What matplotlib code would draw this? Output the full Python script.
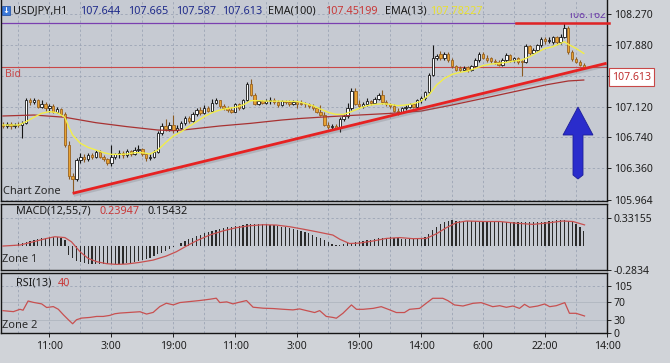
import numpy as np
import matplotlib
matplotlib.use("Agg")
import matplotlib.pyplot as plt
import matplotlib.patheffects as pe
from matplotlib.patches import Polygon, Rectangle
from matplotlib.transforms import Bbox, TransformedBbox, IdentityTransform

plt.rcParams['font.family'] = ['Noto Sans', 'DejaVu Sans']

# ---- data (H1 bars) ----
opens = [106.90, 106.88, 106.91, 106.88, 106.90, 106.89, 106.92, 107.20, 107.18, 107.21,
         107.12, 107.16, 107.10, 107.13, 107.06, 107.09, 107.03, 106.65, 106.26, 106.22,
         106.46, 106.50, 106.47, 106.52, 106.50, 106.56, 106.50, 106.47, 106.42, 106.50,
         106.53, 106.55, 106.52, 106.57, 106.54, 106.58, 106.60, 106.53, 106.48, 106.50,
         106.56, 106.79, 106.88, 106.84, 106.90, 106.83, 106.86, 106.92, 106.98, 106.95,
         107.03, 107.08, 107.04, 107.11, 107.07, 107.17, 107.20, 107.13, 107.10, 107.08,
         107.06, 107.15, 107.10, 107.20, 107.40, 107.27, 107.16, 107.19, 107.17, 107.19,
         107.21, 107.18, 107.14, 107.19, 107.18, 107.15, 107.18, 107.17, 107.16, 107.15,
         107.13, 107.10, 107.06, 107.02, 106.90, 106.87, 106.88, 106.86, 106.97, 107.00,
         107.10, 107.32, 107.16, 107.13, 107.16, 107.19, 107.17, 107.22, 107.26, 107.18,
         107.15, 107.13, 107.07, 107.05, 107.10, 107.12, 107.15, 107.12, 107.20, 107.23,
         107.30, 107.52, 107.73, 107.77, 107.72, 107.78, 107.70, 107.62, 107.60, 107.58,
         107.61, 107.57, 107.62, 107.70, 107.78, 107.73, 107.72, 107.69, 107.68, 107.64,
         107.70, 107.76, 107.70, 107.72, 107.69, 107.67, 107.87, 107.79, 107.83, 107.88,
         107.96, 107.93, 107.92, 107.98, 107.92, 107.99, 108.10, 107.80, 107.71, 107.68,
         107.644]
highs = [106.93, 106.93, 106.93, 106.92, 106.93, 106.94, 107.23, 107.23, 107.23, 107.22,
         107.20, 107.18, 107.16, 107.15, 107.12, 107.10, 107.05, 106.70, 106.30, 106.48,
         106.55, 106.53, 106.55, 106.55, 106.59, 106.58, 106.52, 106.49, 106.65, 106.55,
         106.58, 106.57, 106.60, 106.59, 106.62, 106.65, 106.61, 106.55, 106.53, 106.58,
         106.82, 106.92, 106.97, 106.93, 107.02, 106.89, 106.94, 107.00, 107.01, 107.06,
         107.10, 107.12, 107.14, 107.13, 107.22, 107.23, 107.21, 107.16, 107.13, 107.12,
         107.17, 107.17, 107.22, 107.43, 107.46, 107.29, 107.21, 107.21, 107.22, 107.24,
         107.23, 107.20, 107.21, 107.21, 107.20, 107.20, 107.20, 107.21, 107.18, 107.17,
         107.15, 107.12, 107.14, 107.06, 106.93, 106.91, 106.91, 106.99, 107.03, 107.17,
         107.35, 107.35, 107.20, 107.18, 107.23, 107.21, 107.24, 107.29, 107.33, 107.21,
         107.17, 107.15, 107.10, 107.12, 107.14, 107.17, 107.17, 107.22, 107.25, 107.32,
         107.54, 107.89, 107.78, 107.81, 107.80, 107.80, 107.72, 107.64, 107.62, 107.62,
         107.63, 107.64, 107.72, 107.80, 107.80, 107.76, 107.74, 107.71, 107.70, 107.72,
         107.79, 107.78, 107.74, 107.74, 107.71, 107.90, 107.89, 107.85, 107.90, 107.98,
         107.98, 107.98, 108.00, 108.00, 108.02, 108.16, 108.12, 107.82, 107.74, 107.70,
         107.665]
lows = [106.86, 106.86, 106.85, 106.86, 106.87, 106.73, 106.91, 107.14, 107.15, 107.10,
        107.10, 107.07, 107.06, 107.04, 107.04, 107.00, 106.62, 106.22, 106.05, 106.20,
        106.42, 106.43, 106.45, 106.47, 106.48, 106.48, 106.45, 106.40, 106.39, 106.47,
        106.49, 106.49, 106.50, 106.51, 106.52, 106.56, 106.51, 106.45, 106.46, 106.48,
        106.55, 106.77, 106.82, 106.82, 106.80, 106.81, 106.84, 106.90, 106.92, 106.93,
        107.01, 107.02, 107.03, 107.05, 107.06, 107.15, 107.11, 107.08, 107.06, 107.04,
        107.05, 107.08, 107.09, 107.19, 107.25, 107.14, 107.14, 107.15, 107.15, 107.16,
        107.16, 107.12, 107.13, 107.15, 107.13, 107.14, 107.10, 107.14, 107.12, 107.11,
        107.08, 107.04, 107.00, 106.88, 106.84, 106.84, 106.84, 106.81, 106.94, 106.98,
        107.08, 107.14, 107.11, 107.11, 107.13, 107.14, 107.15, 107.20, 107.16, 107.13,
        107.10, 107.05, 107.02, 107.04, 107.08, 107.10, 107.10, 107.11, 107.17, 107.21,
        107.28, 107.50, 107.70, 107.70, 107.70, 107.68, 107.60, 107.56, 107.55, 107.56,
        107.55, 107.56, 107.61, 107.68, 107.71, 107.68, 107.66, 107.65, 107.62, 107.63,
        107.68, 107.68, 107.68, 107.65, 107.50, 107.66, 107.76, 107.77, 107.81, 107.86,
        107.90, 107.91, 107.90, 107.90, 107.90, 107.97, 107.78, 107.69, 107.66, 107.62,
        107.587]
closes = [106.88, 106.91, 106.88, 106.90, 106.89, 106.92, 107.20, 107.18, 107.21, 107.12,
          107.16, 107.10, 107.13, 107.06, 107.09, 107.03, 106.65, 106.26, 106.22, 106.46,
          106.50, 106.47, 106.52, 106.50, 106.56, 106.50, 106.47, 106.42, 106.50, 106.53,
          106.55, 106.52, 106.57, 106.54, 106.58, 106.60, 106.53, 106.48, 106.50, 106.56,
          106.79, 106.88, 106.84, 106.90, 106.83, 106.86, 106.92, 106.98, 106.95, 107.03,
          107.08, 107.04, 107.11, 107.07, 107.17, 107.20, 107.13, 107.10, 107.08, 107.06,
          107.15, 107.10, 107.20, 107.40, 107.27, 107.16, 107.19, 107.17, 107.19, 107.21,
          107.18, 107.14, 107.19, 107.18, 107.15, 107.18, 107.15, 107.16, 107.15, 107.13,
          107.10, 107.06, 107.02, 106.90, 106.87, 106.88, 106.86, 106.97, 107.00, 107.10,
          107.32, 107.16, 107.13, 107.16, 107.19, 107.17, 107.22, 107.26, 107.18, 107.15,
          107.13, 107.07, 107.05, 107.10, 107.12, 107.15, 107.12, 107.20, 107.23, 107.30,
          107.52, 107.73, 107.75, 107.72, 107.78, 107.70, 107.62, 107.58, 107.58, 107.60,
          107.57, 107.62, 107.70, 107.78, 107.73, 107.70, 107.69, 107.67, 107.64, 107.70,
          107.76, 107.70, 107.72, 107.67, 107.67, 107.87, 107.79, 107.83, 107.88, 107.96,
          107.93, 107.95, 107.98, 107.92, 107.99, 108.10, 107.80, 107.71, 107.68, 107.64,
          107.613]

ema13_x = [0, 4, 6, 8, 10, 12, 14, 16, 17, 18, 20, 22, 24, 26, 28, 30, 32, 34, 36, 38,
           40, 42, 44, 46, 48, 50, 52, 54, 56, 58, 60, 62, 64, 66, 68, 72, 76, 77, 80, 82,
           84, 86, 88, 90, 92, 94, 96, 98, 100, 102, 104, 106, 108, 110, 112, 114, 116, 118,
           120, 122, 124, 126, 128, 130, 132, 134, 136, 138, 140, 142, 144, 145, 146, 148, 150]
ema13_y = [106.894, 106.894, 106.936, 106.99, 107.039, 107.06, 107.047, 106.99, 106.87, 106.77,
           106.667, 106.617, 106.584, 106.551, 106.53, 106.53, 106.534, 106.551, 106.551, 106.534,
           106.584, 106.675, 106.758, 106.81, 106.874, 106.936, 106.998, 107.047, 107.08, 107.10,
           107.113, 107.142, 107.196, 107.196, 107.19, 107.19, 107.185, 107.175, 107.134, 107.092,
           107.051, 107.026, 107.026, 107.06, 107.10, 107.134, 107.15, 107.158, 107.15, 107.134,
           107.142, 107.158, 107.19, 107.266, 107.39, 107.472, 107.522, 107.547, 107.563, 107.596,
           107.63, 107.65, 107.658, 107.671, 107.687, 107.70, 107.74, 107.795, 107.844, 107.865,
           107.906, 107.927, 107.894, 107.844, 107.782]
ema100_x = [0, 8, 16, 24, 32, 40, 44, 48, 56, 64, 72, 77, 84, 92, 100, 108, 116, 124, 132, 140, 146, 150]
ema100_y = [107.006, 107.018, 106.99, 106.923, 106.874, 106.832, 106.824, 106.84, 106.882, 106.915,
            106.956, 106.976, 106.997, 107.018, 107.038, 107.067, 107.142, 107.224, 107.307, 107.39,
            107.44, 107.452]

trend_x = [18, 155.9]
trend_y = [106.047, 107.66]
bid = 107.613
day_high = 108.162

macd_hist = [0.005, 0.005, 0.008, 0.01, 0.03, 0.04, 0.05, 0.06, 0.07, 0.08,
             0.09, 0.10, 0.106, 0.11, 0.11, 0.10, 0.07, -0.106, -0.146, -0.177,
             -0.193, -0.205, -0.21, -0.213, -0.215, -0.217, -0.217, -0.217, -0.215, -0.213,
             -0.212, -0.21, -0.205, -0.2, -0.19, -0.18, -0.166, -0.15, -0.14, -0.12,
             -0.1, -0.08, -0.055, -0.03, -0.016, 0.0, 0.03, 0.06, 0.083, 0.10,
             0.118, 0.134, 0.15, 0.166, 0.177, 0.19, 0.20, 0.21, 0.22, 0.228,
             0.236, 0.24, 0.248, 0.256, 0.26, 0.264, 0.264, 0.26, 0.256, 0.252,
             0.244, 0.236, 0.228, 0.22, 0.213, 0.205, 0.19, 0.177, 0.166, 0.15,
             0.13, 0.11, 0.09, 0.07, 0.05, 0.02, 0.015, 0.015, 0.02, 0.03,
             0.04, 0.047, 0.055, 0.06, 0.067, 0.075, 0.083, 0.09, 0.10, 0.10,
             0.106, 0.10, 0.09, 0.087, 0.083, 0.08, 0.08, 0.083, 0.087, 0.106,
             0.146, 0.185, 0.225, 0.256, 0.28, 0.296, 0.304, 0.30, 0.30, 0.30,
             0.30, 0.30, 0.30, 0.30, 0.30, 0.29, 0.29, 0.29, 0.29, 0.29,
             0.29, 0.28, 0.28, 0.28, 0.28, 0.28, 0.28, 0.28, 0.285, 0.29,
             0.29, 0.30, 0.30, 0.305, 0.31, 0.31, 0.30, 0.29, 0.256, 0.225,
             0.177]
sig_x = [0, 4.4, 7.8, 11.3, 13.4, 16, 17.7, 19.9, 22, 24.2, 26.8, 29.3, 31.9, 35.4, 38.8, 42.2,
         44.8, 47.4, 50, 53.4, 56.9, 60.3, 63.7, 67.2, 70.6, 74.1, 77.5, 80.9, 85.2, 87, 89.5,
         92.1, 95.6, 99, 102.5, 105.9, 109.3, 112, 114.5, 117.1, 119.7, 124, 128.3, 132.5,
         136.9, 141.2, 144.6, 147.2, 150.2]
sig_y = [0, 0.012, 0.05, 0.09, 0.11, 0.10, 0.05, -0.067, -0.146, -0.185, -0.209, -0.217, -0.213,
         -0.193, -0.166, -0.118, -0.067, 0, 0.063, 0.13, 0.18, 0.217, 0.24, 0.252, 0.248, 0.228,
         0.2, 0.17, 0.13, 0.08, 0.03, 0.035, 0.06, 0.09, 0.1, 0.087, 0.09, 0.146, 0.217, 0.276,
         0.296, 0.29, 0.29, 0.27, 0.256, 0.276, 0.296, 0.29, 0.25]

rsi_x = [0, 2.7, 4.4, 5.2, 6.5, 7.8, 10, 11.3, 13, 14.3, 15.6, 16.9, 18, 19, 20.3, 22.5, 24.2,
         25.9, 27.6, 28.9, 30.2, 32.8, 35.4, 37.1, 38.8, 40.5, 42.2, 44, 45.7, 48.3, 50.8, 53.4,
         55.1, 56, 57.8, 59.4, 60.7, 62.9, 64.6, 67.2, 69.8, 72.3, 74.9, 76.6, 78.4, 80.5, 81.8,
         83.5, 85.2, 86.1, 87.8, 90, 91.3, 93, 95.6, 97.7, 99.9, 101.6, 103.7, 105, 107.6, 109.3,
         111, 113.6, 114.9, 116.6, 118.8, 121.4, 123.5, 124.8, 126.5, 128.3, 130, 131.7, 133.4,
         134.7, 136, 138.1, 139.9, 141.2, 142.9, 145.1, 146.3, 148, 150.2]
rsi_y = [49.9, 47.7, 52.9, 50.9, 71.5, 68.5, 65, 56.9, 59, 53, 40.8, 29.6, 20.6, 29.6, 33.3, 34.8,
         37, 37, 39.3, 43, 44.5, 46, 47.5, 42.3, 46, 59, 66.5, 62.8, 68, 70.3, 72.5, 75.4, 77.7,
         68, 69.5, 65, 68, 72.5, 57.6, 55.4, 54.6, 53, 51.6, 53.8, 50, 45.7, 50, 37, 34.8, 33,
         44, 62.7, 52.9, 52.9, 55, 58.8, 51.6, 45.7, 45.7, 52.9, 55, 66.3, 77.5, 77.5, 72.3,
         62.7, 60.3, 66.3, 67.8, 64, 58.8, 61, 57.4, 60.3, 55, 64, 57.4, 60.3, 64.8, 58.8, 61,
         67.8, 44, 44, 38]

time_ticks = [12, 28, 44, 60, 76, 92, 108, 124, 140, 156]
time_labels = ['11:00', '3:00', '19:00', '11:00', '3:00', '19:00', '14:00', '6:00', '22:00', '14:00']
price_ticks = [105.964, 106.360, 106.740, 107.120, 107.500, 107.880, 108.270]
price_labels = ['105.964', '106.360', '106.740', '107.120', '', '107.880', '108.270']

# ---- figure layout in pixels ----
W, H = 670, 363
fig = plt.figure(figsize=(W / 100, H / 100), dpi=100)
fig.patch.set_facecolor('#d0d3d8')
panel_bg = '#c6cad2'
grid_kw = dict(color='#98a1b2', lw=0.55, ls=(0, (3, 3)))


def px(x, y):
    return x / W, 1 - y / H


def add_panel(top, bottom):
    a = fig.add_axes([1 / W, 1 - bottom / H, 606 / W, (bottom - top) / H])
    a.set_facecolor(panel_bg)
    for s in a.spines.values():
        s.set_color('#151515')
        s.set_linewidth(1.0)
    a.set_xlim(-0.5, 156)
    a.yaxis.tick_right()
    a.tick_params(axis='y', direction='out', length=3, width=0.7, labelsize=7.5,
                  colors='#202020', pad=2)
    a.tick_params(axis='x', bottom=False, labelbottom=False)
    for gx in range(4, 157, 8):
        a.axvline(gx, zorder=0.5, **grid_kw)
    return a


idx = np.arange(len(closes))
o = np.array(opens)
c = np.array(closes)
up = c >= o

# ---- main price panel ----
ax = add_panel(0, 201)
ax.spines['top'].set_visible(False)
ax.set_ylim(105.952, 108.444)
ax.set_yticks(price_ticks)
ax.set_yticklabels(price_labels)
for p in price_ticks:
    ax.axhline(p, zorder=0.5, **grid_kw)

ax.axhline(day_high, color='#7a3fb0', lw=0.9, zorder=1)
ax.axhline(bid, color='#c84848', lw=0.8, zorder=1)
ax.plot([132.6, 156.6], [day_high - 0.003] * 2, color='#e02424', lw=1.8, clip_on=False, zorder=4)

wick_col = np.where(up, '#151515', '#8a5a20')
ax.vlines(idx, lows, highs, colors=wick_col, lw=0.8, zorder=2)
body_h = np.maximum(np.abs(c - o), 0.006)
ax.bar(idx, body_h, bottom=np.minimum(o, c), width=0.62,
       color=np.where(up, '#ffffff', '#e8a232'),
       edgecolor=np.where(up, '#151515', '#9a6422'), linewidth=0.6, zorder=3)

ax.plot(ema100_x, ema100_y, color='#a83232', lw=0.9, zorder=4)
ax.plot(ema13_x, ema13_y, color='#f2ee48', lw=1.0, zorder=4)
ax.plot(trend_x, trend_y, color='#e62222', lw=2.0, zorder=5, solid_capstyle='butt',
        path_effects=[pe.SimpleLineShadow(offset=(0.8, -1.5), shadow_color='#70707a', alpha=0.25),
                      pe.Normal()])

t = ax.text(150.7, day_high + 0.02, f'{day_high:.3f}', color='#6a3aa8', fontsize=7.5,
            ha='center', va='bottom', zorder=6)
t.set_clip_box(TransformedBbox(Bbox.from_extents(0, 0, W, H - 13), IdentityTransform()))
t.set_clip_on(True)

ax.text(0.5, bid - 0.02, 'Bid', color='#c84848', fontsize=7.5, va='top', ha='left')
fig.text(*px(3, 192), 'Chart Zone', fontsize=8, color='#2a2a2a', va='center')
fig.text(*px(612, 77), f'{bid:.3f}', fontsize=7.5, color='#c03030', va='center',
         bbox=dict(boxstyle='square,pad=0.3', fc='white', ec='#c84848', lw=0.8))

# title line
fig.add_artist(Rectangle(px(2, 15), 8 / W, 9 / H, transform=fig.transFigure,
                         fc='#3a78d8', ec='#1a4aa0', lw=0.5))
fig.text(*px(6, 10.5), '↓', fontsize=6, color='white', ha='center', va='center',
         fontweight='bold', family='DejaVu Sans')
tfs = 7.8
fig.text(*px(13, 11), 'USDJPY,H1', fontsize=tfs, color='#1a1a1a', va='center')
for xpos, s in zip([80, 128, 176, 222], ['107.644', '107.665', '107.587', '107.613']):
    fig.text(*px(xpos, 11), s, fontsize=tfs, color='#1e2a8a', va='center')
fig.text(*px(268, 11), 'EMA(100)', fontsize=tfs, color='#1a1a1a', va='center')
fig.text(*px(325, 11), '107.45199', fontsize=tfs, color='#c83838', va='center')
fig.text(*px(385, 11), 'EMA(13)', fontsize=tfs, color='#1a1a1a', va='center')
fig.text(*px(430, 11), '107.78227', fontsize=tfs, color='#e8e030', va='center')

# blue arrow
arrow = [(578, 107), (593, 135), (583, 135), (583, 175), (578, 179), (573, 175), (573, 135), (563, 135)]
fig.add_artist(Polygon([px(x, y) for x, y in arrow], closed=True, transform=fig.transFigure,
                       fc='#2a2ccc', ec='#1c1e9a', lw=0.6))

# ---- MACD panel ----
am = add_panel(204, 270)
am.set_ylim(-0.2834, 0.4971)
am.set_yticks([-0.2834, 0.33155])
am.set_yticklabels(['-0.2834', '0.33155'])
am.axhline(0.33155, zorder=0.5, **grid_kw)
am.bar(idx, macd_hist, width=0.32, color='#2a2a2a', zorder=2)
am.plot(sig_x, sig_y, color='#c85050', lw=0.9, zorder=3)
fig.text(*px(16, 211), 'MACD(12,55,7)', fontsize=tfs, color='#1a1a1a', va='center')
fig.text(*px(100, 211), '0.23947', fontsize=tfs, color='#c83838', va='center')
fig.text(*px(148, 211), '0.15432', fontsize=tfs, color='#1a1a1a', va='center')
fig.text(*px(2, 260), 'Zone 1', fontsize=8, color='#2a2a2a', va='center')

# ---- RSI panel ----
ar = add_panel(273, 333)
ar.set_ylim(0, 134)
ar.set_yticks([0, 30, 70, 105])
ar.set_yticklabels(['0', '30', '70', '105'])
ar.axhline(105, zorder=0.5, **grid_kw)
ar.axhline(70, color='#b0b6c0', lw=0.6, zorder=0.5)
ar.axhline(30, color='#b0b6c0', lw=0.6, zorder=0.5)
ar.plot(rsi_x, rsi_y, color='#c85050', lw=0.9, zorder=3)
ar.set_xticks(time_ticks)
ar.set_xticklabels(time_labels)
ar.tick_params(axis='x', bottom=True, labelbottom=True, direction='out', length=3,
               width=0.7, labelsize=7.5, colors='#202020', pad=3)
fig.text(*px(16, 283), 'RSI(13)', fontsize=tfs, color='#1a1a1a', va='center')
fig.text(*px(58, 283), '40', fontsize=tfs, color='#c83838', va='center')
fig.text(*px(2, 325), 'Zone 2', fontsize=8, color='#2a2a2a', va='center')

fig.savefig('out.png', dpi=100, facecolor=fig.get_facecolor())
